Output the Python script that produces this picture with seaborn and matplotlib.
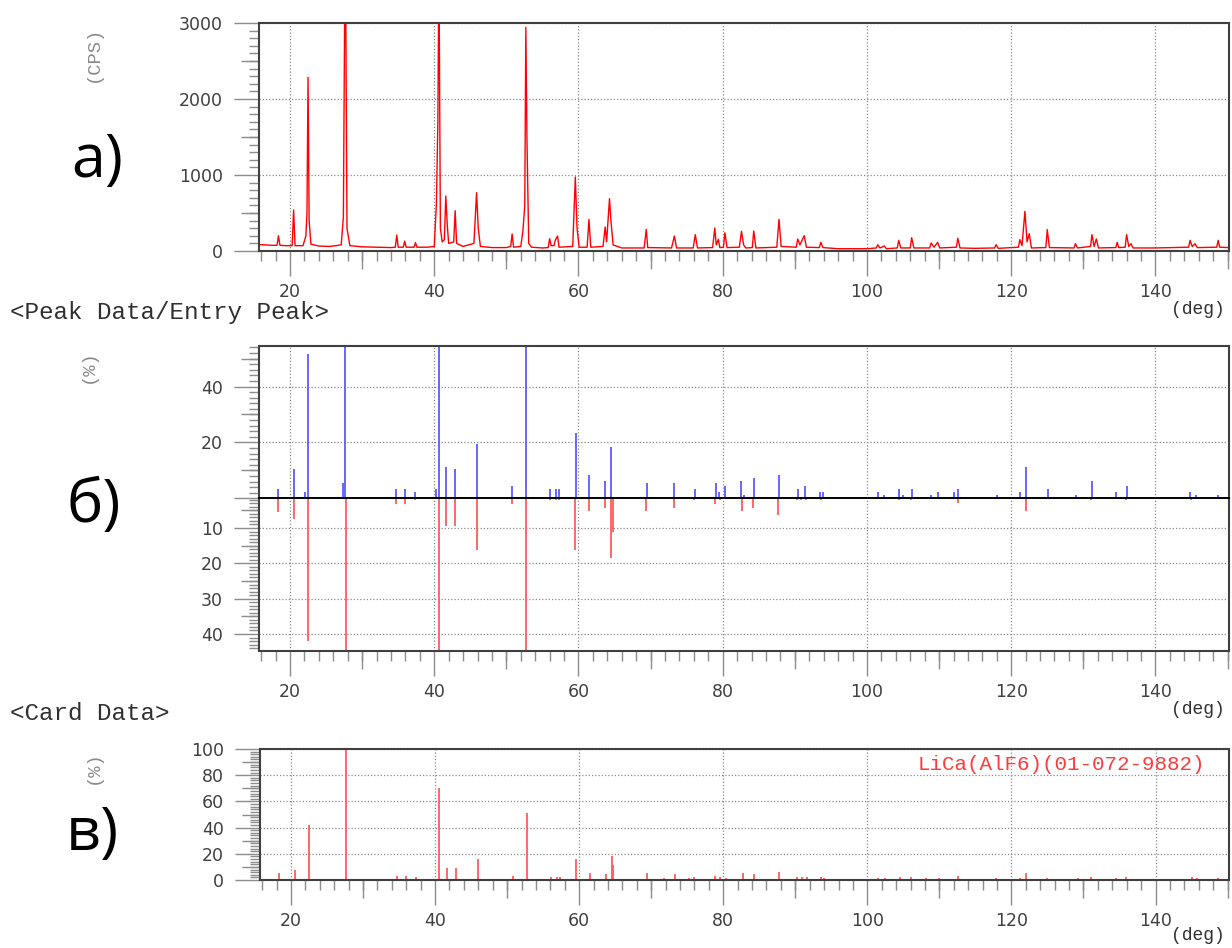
import matplotlib
matplotlib.use("Agg")
import matplotlib.pyplot as plt
import numpy as np
import pandas as pd
import seaborn as sns

# ---------------- data ----------------
# a) measured scan (2theta in deg, intensity in CPS)
scan_2theta = [
    15.7, 16.5, 17.5, 18.2, 18.4, 18.6, 19.5, 20.3, 20.5, 20.7,
    21.8, 22.2, 22.35, 22.5, 22.65, 22.9, 24.0, 25.5, 27.1, 27.4,
    27.66, 27.9, 28.3, 30.0, 32.0, 34.0, 34.6, 34.8, 35.0, 35.7,
    35.9, 36.1, 37.2, 37.4, 37.6, 39.0, 40.0, 40.3, 40.5, 40.65,
    40.85, 41.1, 41.4, 41.6, 41.8, 42.0, 42.7, 42.9, 43.1, 44.0,
    45.5, 45.87, 46.1, 46.4, 48.0, 50.0, 50.6, 50.8, 51.0, 52.0,
    52.3, 52.55, 52.7, 52.85, 53.1, 53.5, 55.0, 55.8, 56.0, 56.2,
    56.6, 56.8, 57.1, 57.3, 59.2, 59.56, 59.8, 60.1, 61.2, 61.45,
    61.7, 63.4, 63.7, 63.9, 64.3, 64.5, 64.8, 66.0, 69.1, 69.4,
    69.6, 72.9, 73.3, 73.6, 75.9, 76.2, 76.5, 78.6, 78.9, 79.1,
    79.4, 79.6, 80.1, 80.3, 80.6, 82.3, 82.6, 82.9, 83.2, 84.1,
    84.3, 84.6, 87.5, 87.8, 88.1, 90.2, 90.4, 90.7, 91.3, 91.6,
    93.4, 93.6, 93.9, 96.0, 100.0, 101.3, 101.5, 101.8, 102.4, 102.7,
    104.2, 104.4, 104.7, 106.0, 106.2, 106.5, 108.7, 108.9, 109.3, 109.8,
    110.1, 112.4, 112.6, 112.9, 115.0, 117.7, 117.9, 118.2, 121.0, 121.2,
    121.5, 121.9, 122.2, 122.5, 122.8, 124.8, 125.0, 125.3, 128.7, 128.9,
    129.2, 131.0, 131.2, 131.5, 131.8, 132.1, 134.5, 134.7, 134.9, 135.8,
    136.0, 136.3, 136.6, 136.9, 140.0, 144.6, 144.8, 145.1, 145.5, 145.8,
    148.5, 148.7, 148.9, 150.2,
]
scan_cps = [
    85, 80, 75, 75, 200, 75, 70, 70, 540, 70,
    70, 200, 500, 2285, 400, 90, 65, 60, 80, 450,
    4400, 300, 70, 55, 50, 45, 50, 210, 50, 50,
    130, 50, 50, 110, 50, 50, 60, 620, 1700, 3800,
    300, 120, 150, 724, 350, 100, 120, 530, 100, 60,
    100, 767, 300, 60, 45, 45, 60, 224, 50, 60,
    270, 600, 2944, 1500, 100, 50, 40, 45, 162, 70,
    70, 145, 197, 50, 60, 974, 300, 50, 50, 417,
    50, 60, 316, 120, 689, 400, 80, 40, 40, 285,
    45, 40, 197, 40, 40, 215, 40, 45, 303, 80,
    154, 45, 50, 241, 45, 50, 259, 80, 40, 45,
    263, 40, 50, 417, 60, 50, 158, 80, 202, 50,
    45, 114, 45, 30, 30, 40, 83, 40, 66, 30,
    40, 140, 40, 40, 175, 40, 40, 105, 50, 114,
    40, 50, 167, 40, 35, 40, 83, 35, 50, 149,
    70, 522, 120, 228, 40, 45, 281, 45, 40, 96,
    40, 60, 215, 60, 158, 40, 45, 114, 45, 50,
    215, 60, 96, 40, 40, 50, 140, 60, 96, 45,
    50, 140, 50, 45,
]

# b) peak list of the measurement (%)
peak_2theta = [18.4, 20.5, 22.1, 22.5, 27.3, 27.66, 34.7, 35.9, 37.3, 40.2,
               40.65, 41.6, 42.9, 45.9, 50.8, 52.7, 56.1, 56.9, 57.3, 59.6,
               61.5, 63.7, 64.5, 69.46, 73.3, 76.2, 79.0, 79.5, 80.3, 82.6,
               82.9, 84.4, 87.8, 90.4, 91.35, 93.5, 93.9, 101.5, 102.4, 104.4,
               104.97, 106.3, 108.9, 109.9, 112.1, 112.6, 118.0, 121.2, 122.0, 125.1,
               129.0, 131.2, 134.6, 136.0, 144.8, 145.6, 148.7]
peak_int = [3.2, 10.4, 2.3, 51.5, 5.4, 100, 3.2, 3.2, 2.3, 3.2,
            85, 11.3, 10.4, 19.3, 4.4, 66, 3.2, 3.2, 3.2, 23.5,
            8.2, 6.3, 18.2, 5.4, 5.4, 3.2, 5.4, 2.1, 4.3, 6.2,
            1.2, 7.3, 8.2, 3.2, 4.3, 2.3, 2.3, 2.3, 1.2, 3.2,
            1.2, 3.2, 1.2, 2.3, 2.3, 3.2, 1.2, 2.3, 11.3, 3.2,
            1.2, 6.2, 2.3, 4.3, 2.3, 1.2, 1.2]

# card LiCa(AlF6) (01-072-9882) (%)
card_2theta = [18.4, 20.5, 22.5, 27.7, 34.7, 35.9, 37.3, 40.6, 41.6, 42.9,
               45.9, 50.8, 52.7, 56.1, 56.9, 57.3, 59.5, 61.5, 63.7, 64.5,
               64.75, 69.4, 71.8, 73.3, 75.2, 76.0, 78.9, 79.6, 80.4, 82.7,
               84.2, 87.7, 90.3, 90.9, 91.6, 93.6, 94.0, 101.5, 102.4, 104.5,
               106.1, 108.2, 109.9, 112.6, 117.9, 121.2, 122.0, 125.0, 129.2, 131.1,
               134.5, 135.9, 145.0, 145.8, 148.7]
card_int = [5.5, 7.5, 42, 100, 3.3, 3.3, 2.0, 70.5, 9.5, 9.5,
            16.3, 3.3, 51.5, 2.0, 2.0, 2.0, 16.3, 5.3, 4.3, 18.5,
            11.2, 5.1, 1.3, 4.3, 1.8, 2.0, 3.3, 2.0, 1.5, 5.3,
            4.3, 6.3, 2.0, 2.0, 2.0, 2.0, 1.3, 1.3, 1.3, 2.0,
            2.0, 1.3, 1.3, 3.0, 1.3, 1.3, 5.3, 1.3, 1.3, 2.0,
            1.3, 2.0, 2.0, 1.3, 1.3]

x_major = [20, 40, 60, 80, 100, 120, 140]
x_mid = [30, 50, 70, 90, 110, 130, 150]
card_name = "LiCa(AlF6)(01-072-9882)"

# ---------------- styling ----------------
sns.set_theme(style="white")
plt.rcParams["font.family"] = ["DejaVu Sans"]
plt.rcParams["xtick.bottom"] = True
plt.rcParams["ytick.left"] = True
MONO = ["Liberation Mono", "DejaVu Sans Mono"]
BIG = ["Open Sans", "DejaVu Sans"]
SPINE = "#404040"
TICK = "#8c8c8c"
LAB = "#404040"
GRID = dict(color="#8a8a8a", linestyle=(0, (1, 1.6)), linewidth=0.9)

W, H = 1232, 948
fig = plt.figure(figsize=(W / 100, H / 100), dpi=100)


def add_axes(left, top, right, bottom):
    return fig.add_axes([left / W, 1 - bottom / H, (right - left) / W, (bottom - top) / H])


def px(x, y):
    return x / W, 1 - y / H


def finish_ticks(ax, xticks=True, xlabels=True):
    ax.tick_params(axis="both", which="both", direction="out", color=TICK,
                   width=1.0, labelcolor=LAB, labelsize=12.5)
    ax.tick_params(axis="y", which="both", left=True, right=False)
    ax.tick_params(axis="y", which="major", length=18, pad=8)
    ax.tick_params(axis="y", which="minor", length=7)
    ax.tick_params(axis="x", which="both", bottom=xticks, top=False, labelbottom=xlabels)
    ax.tick_params(axis="x", which="major", length=18, pad=5)
    ax.tick_params(axis="x", which="minor", length=7)


def style_axes(ax, xlabels=True, xticks=True):
    for s in ax.spines.values():
        s.set_color(SPINE)
        s.set_linewidth(1.5)
    ax.set_xlim(15.7, 150.2)
    ax.set_xticks(x_major)
    ax.set_xticks(np.arange(16, 151, 2), minor=True)
    ax.grid(True, which="major", axis="both", **GRID)
    ax.set_axisbelow(True)
    ax.set_xlabel("")
    ax.set_ylabel("")
    if xticks:
        sec = ax.secondary_xaxis("bottom")
        sec.set_xticks(x_mid)
        sec.tick_params(axis="x", bottom=True, length=13, width=1.0, color=TICK,
                        labelbottom=False)
        for s in sec.spines.values():
            s.set_visible(False)


def mid_y(ax, locs):
    sec = ax.secondary_yaxis("left")
    sec.set_yticks(locs)
    sec.tick_params(axis="y", left=True, length=13, width=1.0, color=TICK,
                    labelleft=False)
    for s in sec.spines.values():
        s.set_visible(False)


# ---------------- panel a: measured pattern ----------------
axA = add_axes(259, 23, 1229, 251)
scan_df = pd.DataFrame({"two_theta": scan_2theta, "cps": scan_cps})
sns.lineplot(data=scan_df, x="two_theta", y="cps", ax=axA, color="#ff0000",
             linewidth=1.0, estimator=None, sort=False)
style_axes(axA)
axA.set_ylim(0, 3000)
axA.set_yticks([0, 1000, 2000, 3000])
axA.set_yticks(np.arange(0, 3001, 100), minor=True)
mid_y(axA, [500, 1500, 2500])
finish_ticks(axA)

# ---------------- panel b: peak data / entry peak ----------------
axB1 = add_axes(259, 346, 1229, 498.3)
axB1.vlines(peak_2theta, 0, peak_int, color="#5a5aff", linewidth=1.3)
style_axes(axB1, xlabels=False, xticks=False)
axB1.set_ylim(0, 54.5)
axB1.set_yticks([0, 20, 40])
axB1.set_yticklabels(["", "20", "40"])
axB1.set_yticks(np.arange(0, 55, 2), minor=True)
mid_y(axB1, [10, 30, 50])
finish_ticks(axB1, xticks=False, xlabels=False)
axB1.spines["bottom"].set_color("#000000")
axB1.spines["bottom"].set_linewidth(1.4)
axB1.set_zorder(3)
axB1.patch.set_alpha(0)

axB2 = add_axes(259, 498.3, 1229, 651)
axB2.vlines(card_2theta, 0, card_int, color="#ff5a5a", linewidth=1.3)
style_axes(axB2)
axB2.set_ylim(44.8, 1.6)
axB2.set_yticks([10, 20, 30, 40])
axB2.set_yticks(np.arange(2, 45, 1), minor=True)
mid_y(axB2, [5, 15, 25, 35])
finish_ticks(axB2)
axB2.spines["top"].set_visible(False)

# ---------------- panel c: card data ----------------
axC = add_axes(260, 749, 1229, 880)
axC.vlines(card_2theta, 0, card_int, color="#ff5a5a", linewidth=1.3)
style_axes(axC)
axC.set_ylim(0, 100)
axC.set_yticks([0, 20, 40, 60, 80, 100])
axC.set_yticks(np.arange(0, 101, 2), minor=True)
mid_y(axC, [10, 30, 50, 70, 90])
finish_ticks(axC)
fig.text(*px(1205, 764), card_name, ha="right", va="center", family=MONO,
         fontsize=15, color="#ff3a3a")

# ---------------- annotations ----------------
fig.text(*px(93, 54), "(CPS)", rotation=90, ha="center", va="center",
         family=MONO, fontsize=13.5, color="#8a8a8a")
fig.text(*px(88, 366), "(%)", rotation=90, ha="center", va="center",
         family=MONO, fontsize=13.5, color="#8a8a8a")
fig.text(*px(93, 767), "(%)", rotation=90, ha="center", va="center",
         family=MONO, fontsize=13.5, color="#8a8a8a")

fig.text(*px(10, 312), "<Peak Data/Entry Peak>", ha="left", va="center",
         family=MONO, fontsize=17.5, color="#303030")
fig.text(*px(10, 713), "<Card Data>", ha="left", va="center",
         family=MONO, fontsize=17.5, color="#303030")
for yy in (310, 709, 935):
    fig.text(*px(1225, yy), "(deg)", ha="right", va="center",
             family=MONO, fontsize=13, color="#303030")

fig.text(*px(97, 177), "а)", ha="center", va="baseline", family=BIG,
         fontsize=44, color="#000000")
fig.text(*px(94, 522), "б)", ha="center", va="baseline", family=BIG,
         fontsize=44, color="#000000")
fig.text(*px(92, 850), "в)", ha="center", va="baseline", family=BIG,
         fontsize=44, color="#000000")

fig.savefig("out.png", dpi=100)
